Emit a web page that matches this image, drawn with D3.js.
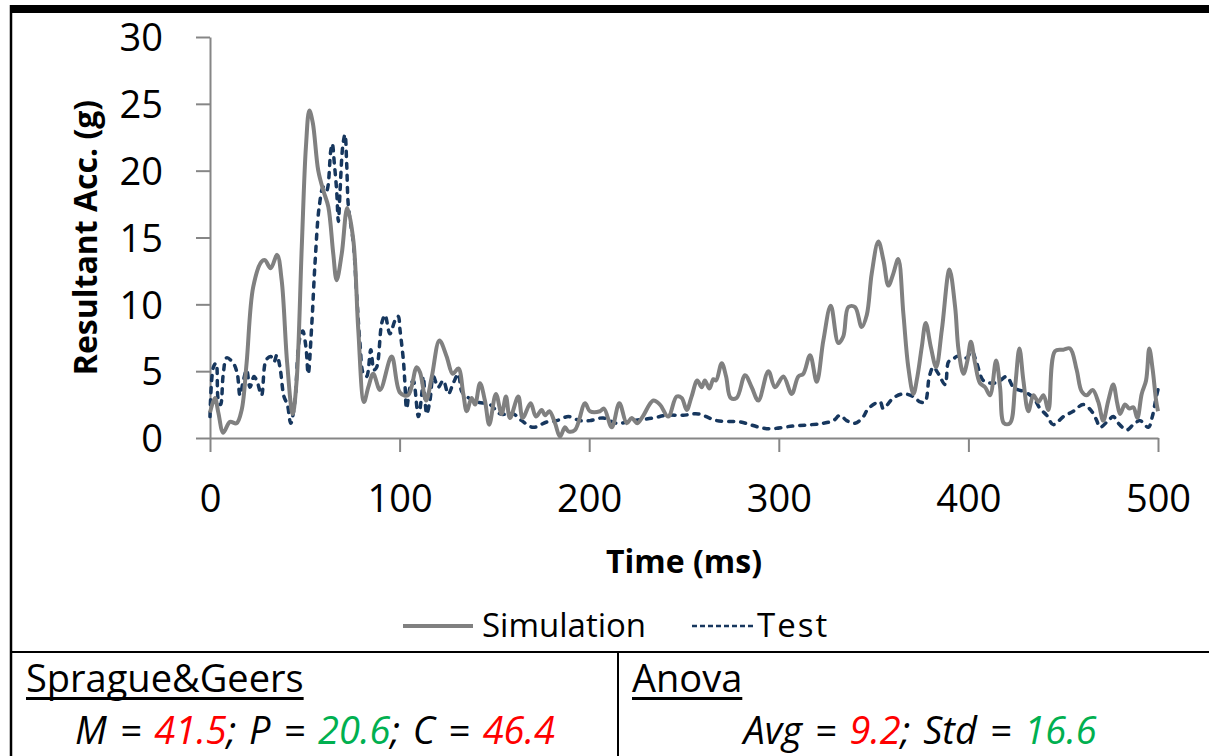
<!DOCTYPE html>
<html>
<head>
<meta charset="utf-8">
<script src="https://cdn.jsdelivr.net/npm/d3@7"></script>
<style>
  body { margin: 0; background: #fff; }
  svg { display: block; font-family: "Open Sans", sans-serif; }
</style>
</head>
<body>
<script>
// 画布尺寸
var w = 1209;
var h = 756;

// ---- 数据 ----
var simTime = [0, 2.6, 4.4, 7, 10.5, 14, 16.7, 19.3, 22.8, 27.2, 29, 32, 35.4, 37.8, 40.7, 43.6, 45.7, 48.4, 50.6, 52.4,
    54.2, 57.1, 59.8, 62.4, 65, 66.8, 69.5, 72.4, 75.6, 78.2, 81.2, 83.5, 86.1, 89.7, 95.8, 100.2, 104.5, 109, 110.8, 114,
    117, 121, 124.8, 128, 131, 133.6, 135.4, 138, 139.8, 142.4, 145, 147.3, 150.8, 153.8, 156.1, 158.2, 162.6, 164.9, 169.1, 171.9,
    174.9, 176.7, 179, 182, 184.6, 187.2, 189, 192.5, 197.8, 200.4, 205.7, 207.8, 211.9, 215.9, 219.8, 222.4, 225.4, 228.2, 233.8, 237.3,
    241.7, 246.1, 248.8, 251.4, 254, 257, 259.3, 261, 263.4, 265.5, 266.9, 269.9, 272.2, 274.6, 277.8, 282.2, 285.7, 289.2, 294.5, 298,
    302.4, 306.8, 310.3, 312.9, 316.5, 320, 323.5, 327.4, 331.4, 334, 336.7, 340.2, 343.7, 346.4, 349, 352.5, 355.2, 357.8, 360.4, 363,
    365.7, 368.3, 371, 373.1, 375.4, 377.5, 380.2, 383, 386, 390, 393, 394.8, 397.4, 399.5, 401.3, 403.5, 406.1, 408.8, 411.4, 414.6,
    416.7, 418.8, 421.9, 424.6, 426.9, 429, 431.6, 434.3, 436.9, 439.6, 442.2, 445.7, 450.1, 453.6, 457.1, 459.7, 462.4, 465.5, 468.5, 471.1,
    473.8, 476.4, 478.5, 480, 482.6, 484.9, 487, 489.1, 491.4, 493.7, 495.4, 497.2, 499, 500];
var simAcc = [1.9, 3.0, 1.9, 0.4, 1.2, 1.1, 2.1, 5.6, 11.3, 13.2, 13.3, 12.7, 13.7, 11.8, 5.6, 1.8, 4.3, 14.3, 21.8, 24.5,
    23.6, 20.0, 18.5, 17.3, 13.8, 11.8, 13.8, 17.2, 14.8, 8.1, 2.7, 3.8, 4.8, 3.6, 6.1, 3.4, 3.2, 5.3, 4.9, 2.8,
    4.6, 7.3, 6.1, 4.8, 5.2, 3.3, 2.0, 3.0, 2.5, 4.1, 2.8, 1.0, 3.3, 1.8, 3.1, 1.5, 3.1, 1.5, 2.6, 1.6,
    2.1, 1.7, 2.0, 1.1, 0.1, 0.8, 0.5, 0.6, 2.6, 2.0, 2.0, 2.2, 0.8, 2.6, 1.1, 1.5, 1.1, 1.6, 2.8, 2.5,
    1.6, 3.1, 3.0, 2.1, 3.1, 4.3, 3.8, 4.3, 3.7, 4.4, 4.3, 5.6, 4.6, 3.0, 3.0, 4.7, 3.8, 2.8, 5.0, 3.8,
    4.6, 3.3, 4.6, 4.8, 6.2, 4.2, 7.3, 9.9, 7.1, 7.6, 9.8, 9.8, 8.3, 9.2, 12.3, 14.7, 13.3, 11.4, 12.3, 13.4,
    9.3, 5.3, 3.3, 4.6, 6.8, 8.6, 6.8, 5.3, 8.1, 12.6, 9.8, 6.6, 4.8, 5.8, 7.2, 5.6, 4.1, 3.8, 3.2, 5.8,
    3.8, 1.1, 1.1, 3.8, 6.7, 4.3, 2.0, 3.2, 2.7, 3.2, 2.1, 6.5, 6.6, 6.7, 5.1, 3.5, 3.2, 3.6, 2.7, 1.3,
    2.8, 4.0, 2.6, 1.8, 2.5, 2.2, 2.3, 1.5, 3.3, 4.3, 6.7, 5.1, 2.8, 2.0];

var testTime = [0, 1.8, 3.2, 4.4, 5.6, 7, 8.8, 12.3, 14.4, 15.8, 17.6, 19.3, 21.1, 23.2, 24.9, 27.2, 29.5, 32, 33.8, 35.2,
    36.9, 39, 40.8, 42.6, 44.8, 47.1, 48.9, 50.6, 51.8, 53.6, 55.4, 57.6, 59.8, 61.5, 63.7, 64.5, 65.6, 66.8, 67.7, 68.6,
    70, 71.2, 72.1, 73, 75.6, 77.4, 79.1, 80.9, 82.6, 84.8, 86.5, 87.9, 90.6, 92.3, 94.9, 97.6, 99.3, 100.2, 102, 102.8,
    103.7, 105.5, 107.2, 109.9, 111.7, 112.5, 114.3, 116, 117.8, 120.4, 123, 125.7, 128.3, 131, 132.7, 135.4, 140.7, 147.7, 153, 160,
    164.4, 170.5, 177.6, 182.9, 189, 195.1, 200.4, 207.4, 214.5, 223.3, 233.8, 240.9, 249.6, 257.5, 267.2, 279.5, 293.6, 307.6, 317.3, 323.5,
    328.8, 332.3, 335.8, 340.2, 344.6, 347.2, 353.4, 355.1, 360.4, 365.7, 371, 374.5, 377.1, 379.4, 381.5, 384.2, 387.7, 389.5, 391.2, 393.9,
    396.5, 399.1, 401.8, 404.4, 407.9, 413.2, 416.7, 420.2, 423.7, 426.3, 429, 434.3, 437.8, 441.3, 444.8, 450.1, 455.3, 460.6, 465, 467.7,
    469.4, 473.8, 476.4, 479.1, 483.5, 487, 490.5, 494.9, 497, 499, 500.8];
var testAcc = [1.6, 5.3, 5.6, 2.8, 2.5, 4.8, 6.0, 5.6, 4.8, 3.2, 4.3, 5.1, 3.8, 4.6, 4.2, 3.2, 5.8, 6.1, 5.7, 6.2,
    5.3, 3.1, 2.5, 1.1, 2.8, 7.3, 8.0, 6.8, 4.8, 8.3, 13.1, 17.3, 18.8, 18.5, 21.5, 22.0, 20.5, 18.5, 16.2, 18.5,
    21.8, 22.7, 20.5, 17.3, 14.6, 10.6, 7.1, 4.8, 4.6, 6.6, 5.1, 5.3, 8.6, 9.2, 7.8, 8.8, 9.1, 8.1, 5.8, 4.1,
    2.2, 3.8, 4.3, 1.6, 3.3, 4.6, 1.8, 2.8, 4.6, 3.8, 4.3, 3.3, 4.1, 4.8, 3.5, 3.1, 2.7, 2.5, 1.8, 1.8,
    1.3, 0.8, 1.2, 1.3, 1.6, 1.3, 1.3, 1.5, 1.1, 1.3, 1.5, 1.7, 1.7, 1.8, 1.3, 1.2, 0.7, 0.9, 1.0, 1.1,
    1.3, 1.7, 1.3, 1.1, 1.6, 2.2, 2.7, 2.2, 3.0, 3.3, 3.1, 2.7, 2.7, 4.6, 5.3, 4.8, 4.0, 5.7, 5.8, 6.1,
    6.1, 6.0, 6.5, 5.6, 4.3, 4.1, 4.3, 4.6, 3.8, 3.6, 3.5, 3.0, 2.2, 1.7, 1.0, 1.6, 2.0, 2.5, 2.0, 1.3,
    0.8, 1.3, 1.6, 1.1, 0.6, 1.0, 1.3, 0.8, 1.6, 3.0, 4.1];

// 刻度
var xTicks = [0, 100, 200, 300, 400, 500];
var yTicks = [0, 5, 10, 15, 20, 25, 30];

// 系列
var seriesNames = ["Simulation", "Test"];

// 下方指标
var sgLabels = ["M", "P", "C"];
var sgValues = ["41.5", "20.6", "46.4"];
var sgGood = [false, true, false];
var anLabels = ["Avg", "Std"];
var anValues = ["9.2", "16.6"];
var anGood = [false, true];

// 颜色
var simColor = "#808080";
var testColor = "#17375E";
var axisColor = "#868686";
var red = "#FF0000";
var green = "#00B050";

// ---- 比例尺 ----
var plotLeft = 210, plotRight = 1158, plotTop = 37, plotBottom = 438;

var x = d3.scaleLinear().domain([0, 500]).range([plotLeft, plotRight]);
var y = d3.scaleLinear().domain([0, 30]).range([plotBottom, plotTop]);

var svg = d3.select("body").append("svg")
    .attr("width", w)
    .attr("height", h);

// ---- 外框线 ----
svg.append("rect")
    .attr("x", 10).attr("y", 5)
    .attr("width", w - 10).attr("height", 8)
    .attr("fill", "#000");
svg.append("line")
    .attr("x1", 11).attr("x2", 11).attr("y1", 5).attr("y2", h)
    .attr("stroke", "#000").attr("stroke-width", 2.5);
svg.append("line")
    .attr("x1", 11).attr("x2", w).attr("y1", 652).attr("y2", 652)
    .attr("stroke", "#000").attr("stroke-width", 2);
svg.append("line")
    .attr("x1", 618).attr("x2", 618).attr("y1", 652).attr("y2", h)
    .attr("stroke", "#000").attr("stroke-width", 2);

// ---- 坐标轴 ----
var yAxis = svg.append("g")
    .attr("transform", "translate(" + plotLeft + ",0)")
    .call(d3.axisLeft(y).tickValues(yTicks).tickSize(14).tickSizeOuter(0));
yAxis.selectAll("text")
    .attr("x", -47)
    .attr("dy", "0.36em")
    .attr("font-size", 38)
    .attr("fill", "#000")
    .style("font-family", "Open Sans");

var xAxis = svg.append("g")
    .attr("transform", "translate(0," + plotBottom + ")")
    .call(d3.axisBottom(x).tickValues(xTicks).tickSize(14).tickSizeOuter(0));
xAxis.selectAll("text")
    .attr("y", 74)
    .attr("dy", 0)
    .attr("font-size", 38)
    .attr("fill", "#000")
    .style("font-family", "Open Sans");

svg.selectAll(".domain, .tick line")
    .attr("stroke", axisColor)
    .attr("stroke-width", 2);

// 轴标题
svg.append("text")
    .attr("transform", "translate(97," + ((plotTop + plotBottom) / 2) + ") rotate(-90)")
    .attr("text-anchor", "middle")
    .attr("font-size", 32)
    .attr("font-weight", "bold")
    .text("Resultant Acc. (g)");

svg.append("text")
    .attr("x", (plotLeft + plotRight) / 2)
    .attr("y", 573)
    .attr("text-anchor", "middle")
    .attr("font-size", 32)
    .attr("font-weight", "bold")
    .text("Time (ms)");

// ---- 曲线 ----
var line = d3.line()
    .x(function (d) { return x(d[0]); })
    .y(function (d) { return y(d[1]); })
    .curve(d3.curveCatmullRom.alpha(0.5));

var simData = d3.zip(simTime, simAcc);
var testData = d3.zip(testTime, testAcc);

svg.append("path")
    .datum(testData)
    .attr("d", line)
    .attr("fill", "none")
    .attr("stroke", testColor)
    .attr("stroke-width", 3.5)
    .attr("stroke-linecap", "round")
    .attr("stroke-dasharray", "5,7");

svg.append("path")
    .datum(simData)
    .attr("d", line)
    .attr("fill", "none")
    .attr("stroke", simColor)
    .attr("stroke-width", 4)
    .attr("stroke-linejoin", "round");

// ---- 图例 ----
var legendY = 626;
svg.append("line")
    .attr("x1", 403).attr("x2", 473).attr("y1", legendY).attr("y2", legendY)
    .attr("stroke", simColor).attr("stroke-width", 4);
svg.append("text")
    .attr("x", 482).attr("y", 637)
    .attr("font-size", 33)
    .text(seriesNames[0]);
svg.append("line")
    .attr("x1", 692).attr("x2", 753).attr("y1", legendY).attr("y2", legendY)
    .attr("stroke", testColor).attr("stroke-width", 2.5)
    .attr("stroke-dasharray", "5,3");
svg.append("text")
    .attr("x", 757).attr("y", 637)
    .attr("font-size", 33)
    .attr("letter-spacing", 2)
    .text(seriesNames[1]);

// ---- 下方表格 ----
var addTitle = function (tx, label) {
    var t = svg.append("text")
        .attr("x", tx).attr("y", 692)
        .attr("font-size", 38)
        .text(label);
    var len = t.node().getComputedTextLength();
    svg.append("rect")
        .attr("x", tx).attr("y", 697)
        .attr("width", len).attr("height", 3)
        .attr("fill", "#000");
};
addTitle(26, "Sprague&Geers");
addTitle(632, "Anova");

var addStats = function (cx, labels, values, good) {
    var t = svg.append("text")
        .attr("x", cx).attr("y", 744)
        .attr("text-anchor", "middle")
        .attr("font-size", 38)
        .attr("word-spacing", 3)
        .attr("font-style", "italic");
    labels.forEach(function (lab, i) {
        t.append("tspan").text(lab + " = ");
        t.append("tspan")
            .attr("fill", good[i] ? green : red)
            .text(values[i]);
        if (i < labels.length - 1) {
            t.append("tspan").text("; ");
        }
    });
};
addStats(315, sgLabels, sgValues, sgGood);
addStats(920, anLabels, anValues, anGood);
</script>
</body>
</html>
